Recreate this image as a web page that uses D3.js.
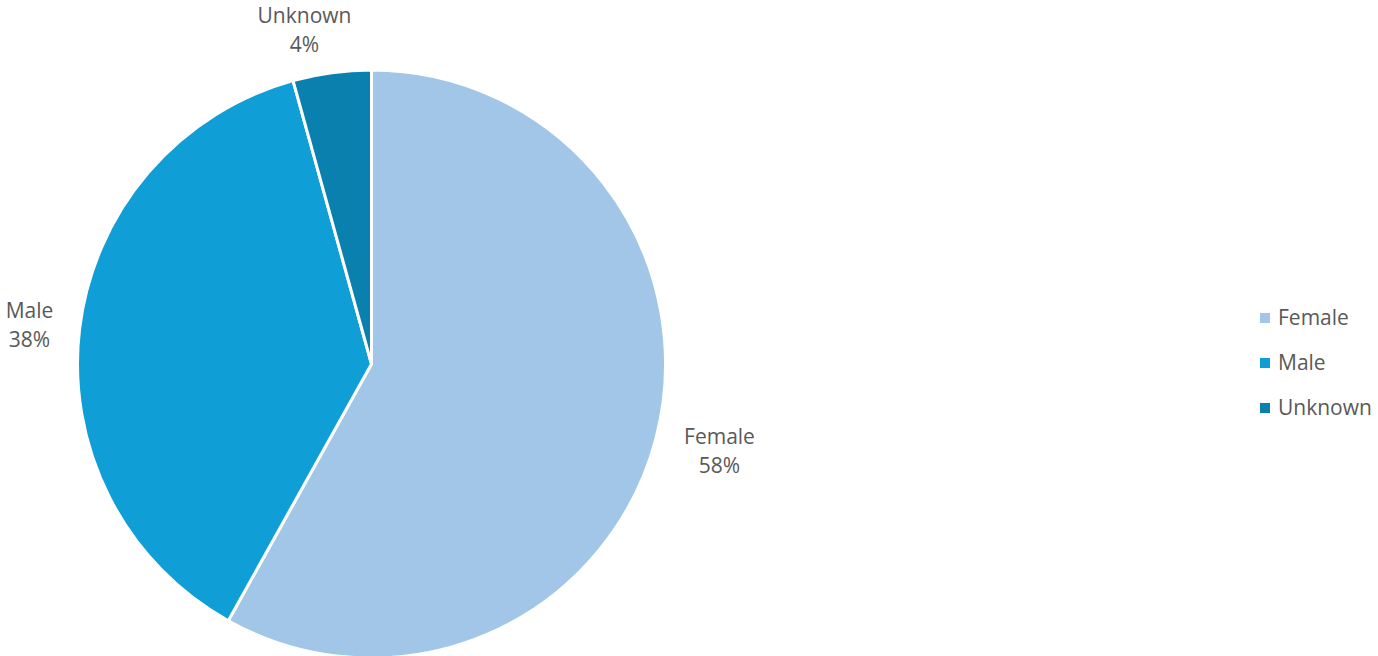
<!DOCTYPE html>
<html>
<head>
<meta charset="utf-8">
<script src="https://cdn.jsdelivr.net/npm/d3@7"></script>
<style>
  body { margin: 0; background: #fff; }
  svg text { font-family: "Open Sans", sans-serif; fill: #595959; }
</style>
</head>
<body>
<svg id="chart" width="1378" height="656"></svg>
<script>
var categories = ["Female", "Male", "Unknown"];
var values = [58.1, 37.6, 4.3];
var percentLabels = ["58%", "38%", "4%"];
var colors = ["#A2C6E7", "#0F9ED5", "#0A80AF"];

var svg = d3.select("#chart"),
    cx = 371.5,
    cy = 364,
    radius = 294;

var color = d3.scaleOrdinal().domain(categories).range(colors);

var pie = d3.pie().sort(null).value(function(d){ return d.value; });
var data = categories.map(function(c, i){ return {name: c, value: values[i], label: percentLabels[i]}; });
var arcs = pie(data);

var arc = d3.arc().innerRadius(0).outerRadius(radius);

var g = svg.append("g").attr("transform", "translate(" + cx + "," + cy + ")");

g.selectAll("path")
    .data(arcs)
    .enter().append("path")
    .attr("d", arc)
    .attr("fill", function(d){ return color(d.data.name); })
    .attr("stroke", "#fff")
    .attr("stroke-width", 3)
    .attr("stroke-linejoin", "round");

// label positions: outside the pie, like the office-style best fit
var labelOffsets = {
    "Female": [348, 86],
    "Male": [-342, -40],
    "Unknown": [-67, -335]
};

var labels = g.selectAll("g.label")
    .data(arcs)
    .enter().append("g")
    .attr("class", "label")
    .attr("transform", function(d){
        var o = labelOffsets[d.data.name];
        return "translate(" + o[0] + "," + o[1] + ")";
    });

labels.append("text")
    .attr("text-anchor", "middle")
    .attr("font-size", 21)
    .attr("y", -6)
    .text(function(d){ return d.data.name; });

labels.append("text")
    .attr("text-anchor", "middle")
    .attr("font-size", 21)
    .attr("y", 23)
    .text(function(d){ return d.data.label; });

// legend
var legend = svg.append("g").attr("transform", "translate(1260,318)");
var item = legend.selectAll("g")
    .data(categories)
    .enter().append("g")
    .attr("transform", function(d, i){ return "translate(0," + (i * 45) + ")"; });

item.append("rect")
    .attr("x", 0).attr("y", -5)
    .attr("width", 10).attr("height", 10)
    .attr("fill", function(d){ return color(d); });

item.append("text")
    .attr("x", 18)
    .attr("dy", "0.35em")
    .attr("font-size", 21)
    .text(function(d){ return d; });
</script>
</body>
</html>
